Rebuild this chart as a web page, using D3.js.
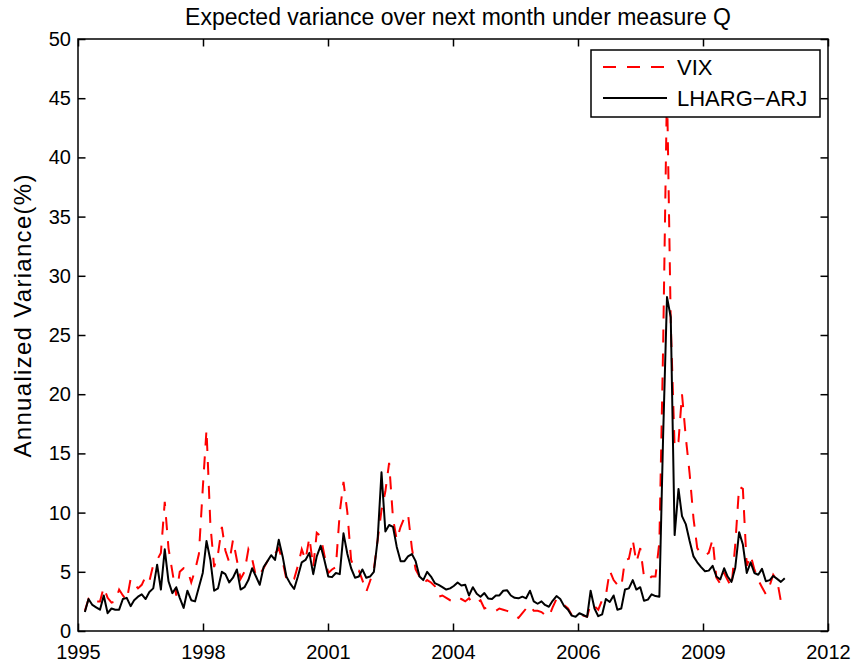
<!DOCTYPE html>
<html><head><meta charset="utf-8">
<script src="https://cdn.jsdelivr.net/npm/d3@7"></script>
<style>body{margin:0;background:#fff} text{font-family:"Liberation Sans",Arial,Helvetica,sans-serif}</style>
</head><body><svg id="c" width="856" height="664"></svg>
<script>
// monthly series, Jan 1996 .. May 2011 (end-of-month)
const startYear = 1996;
const startMonthIndex = 0;
const vix = [
1.7,2.7,2.3,2.5,2.5,3.7,2.8,2.4,2.5,3.5,3.0,2.6,
4.4,4.0,3.6,3.9,4.6,4.2,5.6,6.0,6.6,10.9,7.0,5.0,
3.0,5.0,5.3,5.2,4.1,5.1,6.5,12.0,17.0,9.0,5.4,6.5,
8.8,6.8,5.8,7.7,6.0,4.4,5.0,6.9,6.1,4.6,4.8,5.3,
5.9,6.0,6.5,7.0,5.9,4.4,4.1,4.4,5.5,6.9,6.0,7.9,
5.4,8.3,8.0,6.4,4.9,5.2,5.4,10.0,12.6,10.0,6.0,5.2,
5.1,4.3,3.3,4.2,5.2,7.7,10.2,11.8,14.2,9.5,7.7,8.8,
9.6,9.9,7.0,5.2,4.6,4.0,4.3,4.1,3.8,2.9,3.0,2.8,
2.6,2.5,2.8,2.7,2.5,2.76,2.3,2.4,2.6,1.9,2.0,1.9,
1.7,1.9,1.8,1.7,1.6,1.35,1.1,1.5,1.9,2.2,1.7,1.7,
1.6,1.35,1.2,2.0,2.7,2.5,2.2,1.9,1.35,1.4,1.5,1.3,
1.2,2.3,2.1,1.8,2.6,3.0,5.1,4.3,3.9,3.7,6.0,6.1,
7.7,5.8,7.0,4.6,4.3,4.6,4.6,7.5,24.0,46.0,26.0,15.5,
16.0,20.0,16.3,13.3,9.5,7.0,6.5,6.4,6.6,7.75,4.5,4.0,
4.9,4.3,3.7,7.3,12.2,12.0,5.5,6.4,5.2,4.3,3.7,3.1,
3.85,4.75,4.3,2.5,3.1
];
const lharg = [
1.6,2.7,2.2,2.0,1.8,3.0,1.5,1.9,1.8,1.8,2.7,2.8,
2.1,2.6,2.9,3.1,2.7,3.3,3.6,5.6,3.5,6.9,4.2,3.2,
3.7,2.8,1.95,3.4,2.6,2.5,3.7,4.9,7.6,6.0,3.4,3.6,
5.0,4.8,4.1,4.5,5.2,3.5,3.7,4.3,5.3,4.6,3.9,5.4,
5.9,6.4,6.0,7.7,6.3,4.6,4.0,3.55,4.6,5.8,6.0,6.6,
4.8,6.3,7.2,6.0,4.6,4.55,4.9,4.8,8.25,6.5,5.3,4.5,
4.6,5.2,4.5,4.6,5.0,7.7,13.4,8.4,8.95,8.8,7.1,5.9,
5.9,6.3,6.5,5.9,4.6,4.3,5.0,4.6,4.05,3.9,3.7,3.5,
3.6,3.8,4.1,3.85,3.9,3.0,3.7,3.15,2.9,3.2,2.75,2.7,
3.0,3.0,3.4,3.45,3.0,2.8,2.76,2.9,2.76,3.4,2.5,2.3,
2.5,2.2,2.05,2.55,2.95,2.7,2.1,1.8,1.3,1.2,1.5,1.35,
1.2,3.4,1.9,1.25,1.4,2.7,2.45,3.0,1.8,1.9,3.5,3.6,
4.3,3.5,3.7,2.55,2.65,3.1,2.95,2.9,16.5,28.2,26.5,8.1,
12.0,9.7,9.0,7.6,6.3,5.8,5.4,5.05,5.1,5.5,4.6,4.35,
5.3,4.6,4.15,5.35,8.35,7.3,4.9,5.8,4.9,4.75,5.25,4.2,
4.3,4.65,4.4,4.15,4.45
];
const xTickValues = [729000,730000,731000,732000,733000,734000,735000]; // MATLAB datenums
const xTickLabels = ["1995","1998","2001","2004","2006","2009","2012"];
const yTickValues = [0,5,10,15,20,25,30,35,40,45,50];
const seriesNames = ["VIX","LHARG\u2212ARJ"];
const titleText = "Expected variance over next month under measure Q";
const yLabelText = "Annualized Variance(%)";

function eomDatenum(k){
  const ms = Date.UTC(startYear, startMonthIndex + k + 1, 0);
  return ms/86400000 + 719529;
}
const dates = vix.map((_,k)=>eomDatenum(k));

const L=78,R=828,T=39,B=631;
const svg=d3.select("#c");
const x=d3.scaleLinear().domain([729000,735000]).range([L,R]);
const y=d3.scaleLinear().domain([0,50]).range([B,T]);

const plot=svg.append("g");
plot.append("defs").append("clipPath").attr("id","clip").append("rect")
  .attr("x",L).attr("y",T).attr("width",R-L).attr("height",B-T);

const dashPat="13,11";
const line=d3.line().x((d,i)=>x(dates[i])).y(d=>y(d));
plot.append("path").datum(vix).attr("clip-path","url(#clip)")
  .attr("fill","none").attr("stroke","#ff0000").attr("stroke-width",2)
  .attr("stroke-dasharray",dashPat).attr("d",line);
plot.append("path").datum(lharg).attr("clip-path","url(#clip)")
  .attr("fill","none").attr("stroke","#000").attr("stroke-width",2)
  .attr("stroke-linejoin","round").attr("d",line);

function styleAxis(g){
  g.selectAll(".domain").remove();
  g.selectAll(".tick line").attr("stroke","#000").attr("stroke-width",1.5);
  g.selectAll("text").attr("font-size",20).attr("fill","#000")
   .attr("font-family","'Liberation Sans',Arial,sans-serif");
}
const tk=7.5;
svg.append("g").attr("transform",`translate(0,${B})`)
  .call(d3.axisBottom(x).tickValues(xTickValues).tickSize(-tk).tickPadding(14)
  .tickFormat((d,i)=>xTickLabels[i])).call(styleAxis);
svg.append("g").attr("transform",`translate(0,${T})`)
  .call(d3.axisTop(x).tickValues(xTickValues).tickSize(-tk).tickFormat(()=>"")).call(styleAxis);
svg.append("g").attr("transform",`translate(${L},0)`)
  .call(d3.axisLeft(y).tickValues(yTickValues).tickSize(-tk).tickPadding(7)).call(styleAxis);
svg.append("g").attr("transform",`translate(${R},0)`)
  .call(d3.axisRight(y).tickValues(yTickValues).tickSize(-tk).tickFormat(()=>"")).call(styleAxis);

svg.append("rect").attr("x",L).attr("y",T).attr("width",R-L).attr("height",B-T)
  .attr("fill","none").attr("stroke","#000").attr("stroke-width",1.5);

// title
svg.append("text").attr("x",458).attr("y",25).attr("text-anchor","middle")
  .attr("font-size",23).attr("fill","#000").text(titleText);
// y label
svg.append("text").attr("transform",`translate(31,316) rotate(-90)`)
  .attr("text-anchor","middle").attr("font-size",24).attr("fill","#000")
  .attr("textLength",283).attr("lengthAdjust","spacing").text(yLabelText);

// legend
const lg=svg.append("g");
lg.append("rect").attr("x",591).attr("y",50).attr("width",229).attr("height",67)
  .attr("fill","#fff").attr("stroke","#000").attr("stroke-width",1.5);
const rows=[{c:"#ff0000",dash:dashPat,yy:67},{c:"#000",dash:null,yy:98}];
rows.forEach((r,i)=>{
  lg.append("line").attr("x1",603).attr("x2",667).attr("y1",r.yy).attr("y2",r.yy)
    .attr("stroke",r.c).attr("stroke-width",2).attr("stroke-dasharray",r.dash);
  lg.append("text").attr("x",677).attr("y",r.yy+8).attr("font-size",22).attr("fill","#000").text(seriesNames[i]);
});
</script></body></html>
